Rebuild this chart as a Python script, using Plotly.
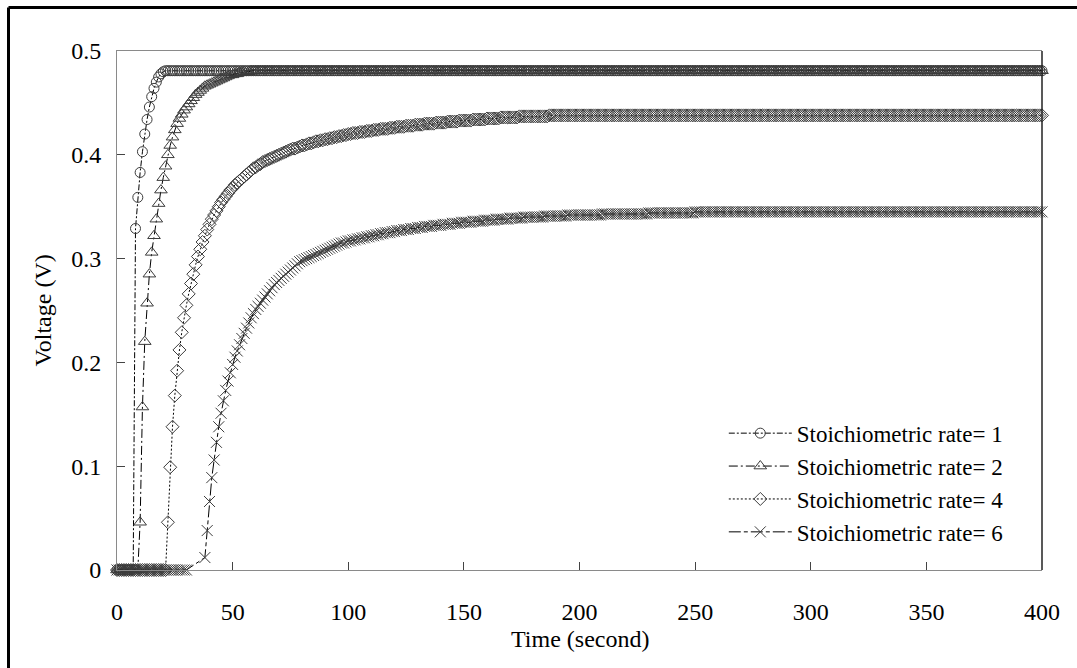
import plotly.graph_objects as go

# Sampling grid of the cell simulation, one sample per second
time_s = list(range(401))

# Cell voltage in mV for each stoichiometric rate (t = 0 ... 400 s)
v_rate1_mv = [
    0, 0, 0, 0, 0, 0, 0, 0, 329, 359, 383, 403, 420, 434, 446, 456, 464, 470, 475, 478,
    480, 481, 481, 481, 481, 481, 481, 481, 481, 481, 481, 481, 481, 481, 481, 481, 481, 481, 481, 481,
    481, 481, 481, 481, 481, 481, 481, 481, 481, 481, 481, 481, 481, 481, 481, 481, 481, 481, 481, 481,
    481, 481, 481, 481, 481, 481, 481, 481, 481, 481, 481, 481, 481, 481, 481, 481, 481, 481, 481, 481,
    481, 481, 481, 481, 481, 481, 481, 481, 481, 481, 481, 481, 481, 481, 481, 481, 481, 481, 481, 481,
    481, 481, 481, 481, 481, 481, 481, 481, 481, 481, 481, 481, 481, 481, 481, 481, 481, 481, 481, 481,
    481, 481, 481, 481, 481, 481, 481, 481, 481, 481, 481, 481, 481, 481, 481, 481, 481, 481, 481, 481,
    481, 481, 481, 481, 481, 481, 481, 481, 481, 481, 481, 481, 481, 481, 481, 481, 481, 481, 481, 481,
    481, 481, 481, 481, 481, 481, 481, 481, 481, 481, 481, 481, 481, 481, 481, 481, 481, 481, 481, 481,
    481, 481, 481, 481, 481, 481, 481, 481, 481, 481, 481, 481, 481, 481, 481, 481, 481, 481, 481, 481,
    481, 481, 481, 481, 481, 481, 481, 481, 481, 481, 481, 481, 481, 481, 481, 481, 481, 481, 481, 481,
    481, 481, 481, 481, 481, 481, 481, 481, 481, 481, 481, 481, 481, 481, 481, 481, 481, 481, 481, 481,
    481, 481, 481, 481, 481, 481, 481, 481, 481, 481, 481, 481, 481, 481, 481, 481, 481, 481, 481, 481,
    481, 481, 481, 481, 481, 481, 481, 481, 481, 481, 481, 481, 481, 481, 481, 481, 481, 481, 481, 481,
    481, 481, 481, 481, 481, 481, 481, 481, 481, 481, 481, 481, 481, 481, 481, 481, 481, 481, 481, 481,
    481, 481, 481, 481, 481, 481, 481, 481, 481, 481, 481, 481, 481, 481, 481, 481, 481, 481, 481, 481,
    481, 481, 481, 481, 481, 481, 481, 481, 481, 481, 481, 481, 481, 481, 481, 481, 481, 481, 481, 481,
    481, 481, 481, 481, 481, 481, 481, 481, 481, 481, 481, 481, 481, 481, 481, 481, 481, 481, 481, 481,
    481, 481, 481, 481, 481, 481, 481, 481, 481, 481, 481, 481, 481, 481, 481, 481, 481, 481, 481, 481,
    481, 481, 481, 481, 481, 481, 481, 481, 481, 481, 481, 481, 481, 481, 481, 481, 481, 481, 481, 481,
    481,
]

v_rate2_mv = [
    0, 0, 0, 0, 0, 0, 0, 0, 0, 0, 46, 157, 220, 257, 285, 306, 322, 338, 353, 366,
    378, 389, 400, 409, 417, 424, 430, 435, 439, 443, 446, 449, 452, 455, 458, 460, 462, 464, 466, 467,
    468, 469, 470, 471, 472, 473, 474, 475, 476, 477, 477, 478, 478, 479, 479, 480, 480, 480, 481, 481,
    481, 481, 481, 481, 481, 481, 481, 481, 481, 481, 481, 481, 481, 481, 481, 481, 481, 481, 481, 481,
    481, 481, 481, 481, 481, 481, 481, 481, 481, 481, 481, 481, 481, 481, 481, 481, 481, 481, 481, 481,
    481, 481, 481, 481, 481, 481, 481, 481, 481, 481, 481, 481, 481, 481, 481, 481, 481, 481, 481, 481,
    481, 481, 481, 481, 481, 481, 481, 481, 481, 481, 481, 481, 481, 481, 481, 481, 481, 481, 481, 481,
    481, 481, 481, 481, 481, 481, 481, 481, 481, 481, 481, 481, 481, 481, 481, 481, 481, 481, 481, 481,
    481, 481, 481, 481, 481, 481, 481, 481, 481, 481, 481, 481, 481, 481, 481, 481, 481, 481, 481, 481,
    481, 481, 481, 481, 481, 481, 481, 481, 481, 481, 481, 481, 481, 481, 481, 481, 481, 481, 481, 481,
    481, 481, 481, 481, 481, 481, 481, 481, 481, 481, 481, 481, 481, 481, 481, 481, 481, 481, 481, 481,
    481, 481, 481, 481, 481, 481, 481, 481, 481, 481, 481, 481, 481, 481, 481, 481, 481, 481, 481, 481,
    481, 481, 481, 481, 481, 481, 481, 481, 481, 481, 481, 481, 481, 481, 481, 481, 481, 481, 481, 481,
    481, 481, 481, 481, 481, 481, 481, 481, 481, 481, 481, 481, 481, 481, 481, 481, 481, 481, 481, 481,
    481, 481, 481, 481, 481, 481, 481, 481, 481, 481, 481, 481, 481, 481, 481, 481, 481, 481, 481, 481,
    481, 481, 481, 481, 481, 481, 481, 481, 481, 481, 481, 481, 481, 481, 481, 481, 481, 481, 481, 481,
    481, 481, 481, 481, 481, 481, 481, 481, 481, 481, 481, 481, 481, 481, 481, 481, 481, 481, 481, 481,
    481, 481, 481, 481, 481, 481, 481, 481, 481, 481, 481, 481, 481, 481, 481, 481, 481, 481, 481, 481,
    481, 481, 481, 481, 481, 481, 481, 481, 481, 481, 481, 481, 481, 481, 481, 481, 481, 481, 481, 481,
    481, 481, 481, 481, 481, 481, 481, 481, 481, 481, 481, 481, 481, 481, 481, 481, 481, 481, 481, 481,
    481,
]

v_rate4_mv = [
    0, 0, 0, 0, 0, 0, 0, 0, 0, 0, 0, 0, 0, 0, 0, 0, 0, 0, 0, 0,
    0, 0, 46, 99, 138, 168, 192, 212, 229, 243, 255, 266, 276, 285, 294, 302, 309, 316, 322, 328,
    333, 338, 342, 346, 350, 354, 357, 360, 363, 366, 368, 371, 373, 375, 377, 379, 381, 383, 385, 387,
    388, 390, 391, 393, 394, 395, 396, 397, 398, 399, 400, 401, 402, 403, 404, 405, 406, 406, 407, 408,
    409, 409, 410, 411, 411, 412, 413, 413, 414, 414, 415, 415, 416, 416, 417, 417, 418, 418, 419, 419,
    420, 420, 421, 421, 421, 422, 422, 422, 423, 423, 423, 424, 424, 424, 425, 425, 425, 425, 426, 426,
    426, 427, 427, 427, 427, 428, 428, 428, 428, 429, 429, 429, 429, 430, 430, 430, 430, 430, 431, 431,
    431, 431, 431, 432, 432, 432, 432, 432, 433, 433, 433, 433, 433, 433, 434, 434, 434, 434, 434, 434,
    435, 435, 435, 435, 435, 435, 436, 436, 436, 436, 436, 436, 436, 436, 437, 437, 437, 437, 437, 437,
    437, 437, 437, 437, 437, 437, 437, 438, 438, 438, 438, 438, 438, 438, 438, 438, 438, 438, 438, 438,
    438, 438, 438, 438, 438, 438, 438, 438, 438, 438, 438, 438, 438, 438, 438, 438, 438, 438, 438, 438,
    438, 438, 438, 438, 438, 438, 438, 438, 438, 438, 438, 438, 438, 438, 438, 438, 438, 438, 438, 438,
    438, 438, 438, 438, 438, 438, 438, 438, 438, 438, 438, 438, 438, 438, 438, 438, 438, 438, 438, 438,
    438, 438, 438, 438, 438, 438, 438, 438, 438, 438, 438, 438, 438, 438, 438, 438, 438, 438, 438, 438,
    438, 438, 438, 438, 438, 438, 438, 438, 438, 438, 438, 438, 438, 438, 438, 438, 438, 438, 438, 438,
    438, 438, 438, 438, 438, 438, 438, 438, 438, 438, 438, 438, 438, 438, 438, 438, 438, 438, 438, 438,
    438, 438, 438, 438, 438, 438, 438, 438, 438, 438, 438, 438, 438, 438, 438, 438, 438, 438, 438, 438,
    438, 438, 438, 438, 438, 438, 438, 438, 438, 438, 438, 438, 438, 438, 438, 438, 438, 438, 438, 438,
    438, 438, 438, 438, 438, 438, 438, 438, 438, 438, 438, 438, 438, 438, 438, 438, 438, 438, 438, 438,
    438, 438, 438, 438, 438, 438, 438, 438, 438, 438, 438, 438, 438, 438, 438, 438, 438, 438, 438, 438,
    438,
]

# No samples were logged for this rate between 31 s and 37 s
v_rate6_mv = [
    0, 0, 0, 0, 0, 0, 0, 0, 0, 0, 0, 0, 0, 0, 0, 0, 0, 0, 0, 0,
    0, 0, 0, 0, 0, 0, 0, 0, 0, 0, 0, None, None, None, None, None, None, None, 12, 38,
    66, 89, 106, 123, 138, 151, 163, 173, 182, 190, 198, 205, 211, 217, 223, 228, 233, 238, 243, 247,
    251, 254, 257, 260, 263, 266, 269, 272, 275, 277, 279, 281, 283, 285, 287, 289, 291, 293, 295, 297,
    298, 299, 300, 301, 302, 303, 304, 305, 306, 307, 308, 309, 310, 311, 312, 313, 314, 315, 315, 316,
    317, 317, 318, 318, 319, 319, 320, 320, 321, 321, 322, 322, 323, 323, 324, 324, 325, 325, 325, 326,
    326, 327, 327, 327, 328, 328, 328, 329, 329, 329, 330, 330, 330, 331, 331, 331, 331, 332, 332, 332,
    332, 333, 333, 333, 333, 334, 334, 334, 334, 335, 335, 335, 335, 335, 336, 336, 336, 336, 336, 337,
    337, 337, 337, 337, 338, 338, 338, 338, 338, 338, 339, 339, 339, 339, 339, 339, 340, 340, 340, 340,
    340, 340, 340, 340, 340, 341, 341, 341, 341, 341, 341, 341, 341, 341, 341, 342, 342, 342, 342, 342,
    342, 342, 342, 342, 342, 342, 342, 342, 342, 342, 343, 343, 343, 343, 343, 343, 343, 343, 343, 343,
    343, 343, 343, 343, 343, 343, 343, 343, 343, 343, 344, 344, 344, 344, 344, 344, 344, 344, 344, 344,
    344, 344, 344, 344, 344, 344, 344, 344, 344, 344, 345, 345, 345, 345, 345, 345, 345, 345, 345, 345,
    345, 345, 345, 345, 345, 345, 345, 345, 345, 345, 345, 345, 345, 345, 345, 345, 345, 345, 345, 345,
    345, 345, 345, 345, 345, 345, 345, 345, 345, 345, 345, 345, 345, 345, 345, 345, 345, 345, 345, 345,
    345, 345, 345, 345, 345, 345, 345, 345, 345, 345, 345, 345, 345, 345, 345, 345, 345, 345, 345, 345,
    345, 345, 345, 345, 345, 345, 345, 345, 345, 345, 345, 345, 345, 345, 345, 345, 345, 345, 345, 345,
    345, 345, 345, 345, 345, 345, 345, 345, 345, 345, 345, 345, 345, 345, 345, 345, 345, 345, 345, 345,
    345, 345, 345, 345, 345, 345, 345, 345, 345, 345, 345, 345, 345, 345, 345, 345, 345, 345, 345, 345,
    345, 345, 345, 345, 345, 345, 345, 345, 345, 345, 345, 345, 345, 345, 345, 345, 345, 345, 345, 345,
    345,
]

series_names = [
    "Stoichiometric rate= 1",
    "Stoichiometric rate= 2",
    "Stoichiometric rate= 4",
    "Stoichiometric rate= 6",
]

x_tick_vals = [0, 50, 100, 150, 200, 250, 300, 350, 400]
y_tick_vals = [0, 0.1, 0.2, 0.3, 0.4, 0.5]
y_tick_text = ["0", "0.1", "0.2", "0.3", "0.4", "0.5"]

FONT = "Liberation Serif"
MARKER_GREY = "#3c3c3c"

styles = [
    dict(symbol="circle-open", size=10, dash="6px,2px,2px,2px"),
    dict(symbol="triangle-up-open", size=11, dash="9px,3px,2px,3px"),
    dict(symbol="diamond-open", size=10, dash="2px,2px"),
    dict(symbol="x-thin-open", size=11, dash="12px,3px,4px,3px"),
]


def to_volts(values_mv):
    return [None if v is None else v / 1000.0 for v in values_mv]


fig = go.Figure()
for name, values, st in zip(series_names,
                            [v_rate1_mv, v_rate2_mv, v_rate4_mv, v_rate6_mv],
                            styles):
    fig.add_trace(go.Scatter(
        x=time_s,
        y=to_volts(values),
        name=name,
        mode="lines+markers",
        connectgaps=True,
        cliponaxis=False,
        line=dict(color="black", width=1, dash=st["dash"]),
        marker=dict(symbol=st["symbol"], size=st["size"], color=MARKER_GREY,
                    line=dict(color=MARKER_GREY, width=1)),
    ))

axis_grey = "#8a8a8a"

fig.update_layout(
    width=1077,
    height=668,
    margin=dict(l=117, r=35, t=51, b=98),
    paper_bgcolor="white",
    plot_bgcolor="white",
    font=dict(family=FONT, size=24, color="black"),
    showlegend=True,
    legend=dict(
        x=0.656, y=0.305, xanchor="left", yanchor="top",
        bgcolor="rgba(0,0,0,0)", borderwidth=0,
        font=dict(family=FONT, size=23, color="black"),
        itemwidth=63, tracegroupgap=0,
    ),
    xaxis=dict(
        range=[0, 400], tickvals=x_tick_vals,
        ticks="inside", ticklen=8, tickcolor="#444", tickwidth=1,
        showline=True, linecolor=axis_grey, linewidth=1, mirror=True,
        showgrid=False, zeroline=False,
        tickfont=dict(family=FONT, size=24, color="black"),
        ticklabelstandoff=20,
    ),
    yaxis=dict(
        range=[0, 0.5], tickvals=y_tick_vals, ticktext=y_tick_text,
        ticks="inside", ticklen=8, tickcolor="#444", tickwidth=1,
        showline=True, linecolor=axis_grey, linewidth=1,
        showgrid=False, zeroline=False,
        tickfont=dict(family=FONT, size=24, color="black"),
        ticklabelstandoff=10,
    ),
    annotations=[
        dict(text="Time (second)", xref="paper", yref="paper", x=0.5, y=0,
             xanchor="center", yanchor="middle", yshift=-69, showarrow=False,
             font=dict(family=FONT, size=24, color="black")),
        dict(text="Voltage (V)", xref="paper", yref="paper", x=0, y=0.5,
             xanchor="center", yanchor="middle", xshift=-75, textangle=-90,
             showarrow=False, font=dict(family=FONT, size=24, color="black")),
    ],
    shapes=[
        # darker right-hand edge of the plotting area
        dict(type="line", xref="paper", yref="paper", x0=1, x1=1, y0=0, y1=1,
             line=dict(color="#222", width=1.5)),
        # outer frame around the whole figure
        dict(type="line", xref="paper", yref="paper",
             x0=(8.5 - 117) / 925, x1=(1080 - 117) / 925,
             y0=(570 - 7.5) / 519, y1=(570 - 7.5) / 519,
             line=dict(color="black", width=3)),
        dict(type="line", xref="paper", yref="paper",
             x0=(8.5 - 117) / 925, x1=(8.5 - 117) / 925,
             y0=(570 - 7.5) / 519, y1=(570 - 680) / 519,
             line=dict(color="black", width=3)),
    ],
)

fig.write_html("out.html")
